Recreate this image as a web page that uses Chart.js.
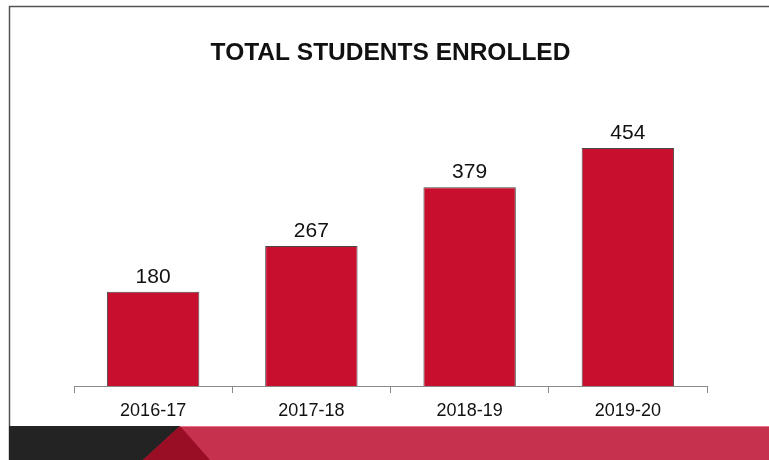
<!DOCTYPE html>
<html>
<head>
<meta charset="utf-8">
<script src="https://cdn.jsdelivr.net/npm/chart.js@4.4.1/dist/chart.umd.min.js"></script>
<style>
  html, body { margin: 0; padding: 0; background: #ffffff; }
  #wrap { position: relative; width: 769px; height: 460px; }
  canvas { display: block; }
</style>
</head>
<body>
<div id="wrap"><canvas id="c" width="769" height="460"></canvas></div>
<script>
const titleText = "TOTAL STUDENTS ENROLLED";
const categories = ["2016-17", "2017-18", "2018-19", "2019-20"];
const enrolled = [180, 267, 379, 454];
const yMin = 0;
const yMax = 500;

const decor = {
  id: "decor",
  beforeDraw(chart) {
    const ctx = chart.ctx;
    ctx.save();
    ctx.fillStyle = "#ffffff";
    ctx.fillRect(0, 0, 769, 460);
    // slide frame
    ctx.strokeStyle = "#555555";
    ctx.lineWidth = 1.5;
    ctx.beginPath();
    ctx.moveTo(9.5, 460);
    ctx.lineTo(9.5, 6.5);
    ctx.lineTo(769, 6.5);
    ctx.stroke();
    // bottom band
    ctx.fillStyle = "#c6324d";
    ctx.fillRect(9, 426, 760, 34);
    ctx.fillStyle = "#232323";
    ctx.beginPath();
    ctx.moveTo(9, 426); ctx.lineTo(180, 426); ctx.lineTo(143, 460); ctx.lineTo(9, 460);
    ctx.closePath(); ctx.fill();
    ctx.fillStyle = "#990d25";
    ctx.beginPath();
    ctx.moveTo(180, 426); ctx.lineTo(143, 460); ctx.lineTo(210, 460);
    ctx.closePath(); ctx.fill();
    ctx.fillStyle = "rgba(240,150,165,0.7)";
    ctx.fillRect(180, 426, 589, 1);
    ctx.restore();
  }
};

const valueLabels = {
  id: "valueLabels",
  afterDatasetsDraw(chart) {
    const ctx = chart.ctx;
    const meta = chart.getDatasetMeta(0);
    ctx.save();
    ctx.font = "21px 'Liberation Sans', Arial, sans-serif";
    ctx.fillStyle = "#111111";
    ctx.textAlign = "center";
    ctx.textBaseline = "alphabetic";
    meta.data.forEach((bar, i) => {
      ctx.fillText(String(chart.data.datasets[0].data[i]), bar.x, bar.y - 9);
    });
    ctx.restore();
  }
};

new Chart(document.getElementById("c"), {
  type: "bar",
  data: {
    labels: categories,
    datasets: [{
      data: enrolled,
      backgroundColor: "#c8102e",
      borderColor: "#4a4a4a",
      borderWidth: 1,
      categoryPercentage: 1.0,
      barPercentage: 0.584
    }]
  },
  options: {
    responsive: false,
    animation: false,
    devicePixelRatio: 1,
    layout: { padding: { top: 0, left: 74, right: 62, bottom: 34 } },
    plugins: {
      legend: { display: false },
      tooltip: { enabled: false },
      title: {
        display: true,
        text: titleText,
        color: "#111111",
        font: { family: "'Liberation Sans', Arial, sans-serif", size: 24.5, weight: "bold", lineHeight: 1.2 },
        padding: { top: 38.8, bottom: 55.65 }
      }
    },
    scales: {
      x: {
        grid: { display: true, drawOnChartArea: false, drawTicks: true, tickLength: 7, color: "#8a8a8a", offset: true },
        border: { display: true, color: "#8a8a8a", width: 1 },
        ticks: { color: "#111111", padding: 7, font: { family: "'Liberation Sans', Arial, sans-serif", size: 18 } },
        afterFit(scale) { scale.height = 40; }
      },
      y: {
        display: false,
        min: yMin,
        max: yMax
      }
    }
  },
  plugins: [decor, valueLabels]
});
</script>
</body>
</html>
